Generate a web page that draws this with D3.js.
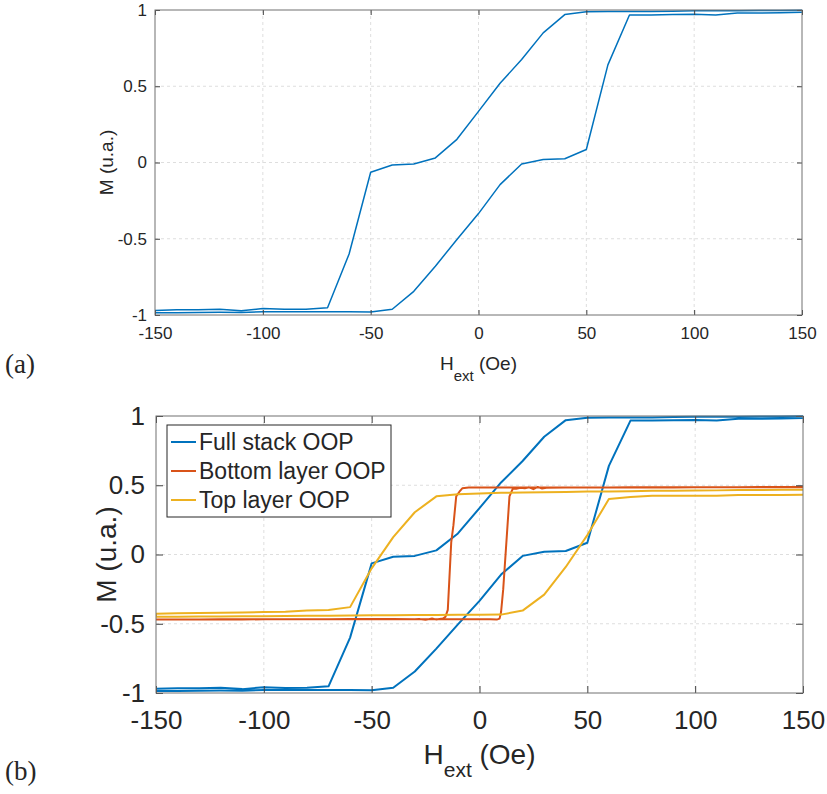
<!DOCTYPE html>
<html>
<head>
<meta charset="utf-8">
<script src="https://cdn.jsdelivr.net/npm/d3@7"></script>
<style>
  body { margin: 0; background: #fff; }
  svg text { font-family: "Liberation Sans", Arial, Helvetica, sans-serif; fill: #262626; }
  .panel-tag { font-family: "Liberation Serif", "DejaVu Serif", serif !important; }
</style>
</head>
<body>
<div class="chart"></div>
<script>
// field steps of the full stack and top layer sweeps (Oe)
var fieldSteps = [-150, -140, -130, -120, -110, -100, -90, -80, -70, -60, -50, -40, -30, -20, -10,
  0, 10, 20, 30, 40, 50, 60, 70, 80, 90, 100, 110, 120, 130, 140, 150];

// full stack, M on the descending sweep, listed at fieldSteps
var fullDown = [-0.970, -0.965, -0.965, -0.962, -0.972, -0.958, -0.963, -0.962, -0.952, -0.600, -0.064,
  -0.016, -0.010, 0.030, 0.152, 0.335, 0.520, 0.675, 0.850, 0.970, 0.988, 0.990, 0.990, 0.990,
  0.992, 0.995, 0.995, 0.995, 0.997, 0.997, 0.998];
// full stack, ascending sweep
var fullUp = [-0.985, -0.985, -0.983, -0.982, -0.983, -0.978, -0.978, -0.978, -0.978, -0.978, -0.980,
  -0.962, -0.845, -0.680, -0.505, -0.335, -0.145, -0.010, 0.020, 0.025, 0.085, 0.640, 0.967,
  0.968, 0.970, 0.972, 0.968, 0.980, 0.980, 0.982, 0.985];

// top layer
var topDown = [-0.427, -0.425, -0.423, -0.420, -0.418, -0.415, -0.413, -0.405, -0.400, -0.380, -0.100,
  0.125, 0.305, 0.420, 0.435, 0.440, 0.445, 0.447, 0.450, 0.452, 0.455, 0.455, 0.457, 0.460,
  0.460, 0.462, 0.463, 0.465, 0.466, 0.467, 0.468];
var topUp = [-0.450, -0.449, -0.448, -0.447, -0.446, -0.445, -0.444, -0.443, -0.442, -0.440, -0.439,
  -0.438, -0.437, -0.436, -0.435, -0.435, -0.434, -0.405, -0.290, -0.090, 0.140, 0.400, 0.415,
  0.424, 0.425, 0.425, 0.424, 0.430, 0.430, 0.430, 0.432];

// bottom layer, denser sweep (descending from +150, then ascending from -150)
var bottomDownH = [150, 140, 130, 120, 110, 100, 90, 80, 70, 60, 50, 40, 30, 20, 10, 0, -5, -8, -9,
  -10.8, -12.1, -13.1, -14.7, -15.8, -17, -20, -22, -25, -28, -30, -40, -50, -60, -70, -80, -90,
  -100, -110, -120, -130, -140, -150];
var bottomDownM = [0.486, 0.486, 0.485, 0.485, 0.485, 0.485, 0.484, 0.484, 0.484, 0.484, 0.484, 0.484,
  0.484, 0.484, 0.484, 0.483, 0.483, 0.478, 0.460, 0.420, 0.210, 0.090, -0.400, -0.450, -0.462,
  -0.470, -0.462, -0.472, -0.465, -0.467, -0.466, -0.466, -0.466, -0.467, -0.467, -0.467, -0.468,
  -0.468, -0.468, -0.469, -0.469, -0.470];
var bottomUpH = [-150, -140, -130, -120, -110, -100, -90, -80, -70, -60, -50, -40, -30, -20, -10, 0, 5,
  8, 9.3, 10, 11, 13.9, 15.5, 17, 19, 21, 23, 25, 27, 29, 31, 40, 50, 60, 70, 80, 90, 100, 110,
  120, 130, 140, 150];
var bottomUpM = [-0.470, -0.470, -0.469, -0.469, -0.469, -0.468, -0.468, -0.468, -0.468, -0.468, -0.468,
  -0.468, -0.468, -0.468, -0.468, -0.468, -0.467, -0.470, -0.463, -0.415, -0.250, 0.420, 0.477,
  0.475, 0.482, 0.478, 0.485, 0.472, 0.488, 0.476, 0.482, 0.483, 0.484, 0.484, 0.485, 0.485,
  0.485, 0.486, 0.486, 0.486, 0.487, 0.487, 0.487];

var xTicks = [-150, -100, -50, 0, 50, 100, 150];
var xTickLabels = ["-150", "-100", "-50", "0", "50", "100", "150"];
var yTicks = [-1, -0.5, 0, 0.5, 1];
var yTickLabels = ["-1", "-0.5", "0", "0.5", "1"];
var seriesNames = ["Full stack OOP", "Bottom layer OOP", "Top layer OOP"];
var seriesColors = ["#0072BD", "#D95319", "#EDB120"];

var Hysteresis = (function() {
  var width = 827, height = 794;

  // descending branch (high field to low) then ascending branch
  function loop(hDown, mDown, hUp, mUp) {
    var pts = [];
    hDown.forEach(function(h, i) { pts.push([h, mDown[i]]); });
    hUp.forEach(function(h, i) { pts.push([h, mUp[i]]); });
    return pts;
  }

  function stepLoop(down, up) {
    var rev = fieldSteps.slice().reverse();
    var revM = down.slice().reverse();
    return loop(rev, revM, fieldSteps, up);
  }

  function drawPanel(svg, p) {
    var x = d3.scaleLinear().domain([-150, 150]).range([p.left, p.right]);
    var y = d3.scaleLinear().domain([-1, 1]).range([p.bottom, p.top]);

    var g = svg.append("g");

    // dashed grid
    g.append("g").selectAll("line").data(xTicks.slice(1, -1)).enter().append("line")
      .attr("x1", d => x(d)).attr("x2", d => x(d))
      .attr("y1", p.top).attr("y2", p.bottom)
      .attr("stroke", "#dedede").attr("stroke-dasharray", "3,3");
    g.append("g").selectAll("line").data(yTicks.slice(1, -1)).enter().append("line")
      .attr("x1", p.left).attr("x2", p.right)
      .attr("y1", d => y(d)).attr("y2", d => y(d))
      .attr("stroke", "#dedede").attr("stroke-dasharray", "3,3");

    var clipId = "clip" + p.name;
    svg.append("clipPath").attr("id", clipId).append("rect")
      .attr("x", p.left).attr("y", p.top - 1)
      .attr("width", p.right - p.left).attr("height", p.bottom - p.top + 2);

    var line = d3.line().x(d => x(d[0])).y(d => y(d[1]));

    g.append("g").attr("clip-path", "url(#" + clipId + ")")
      .selectAll("path").data(p.series).enter().append("path")
      .attr("d", d => line(d.points))
      .attr("fill", "none")
      .attr("stroke", d => d.color)
      .attr("stroke-width", p.lineWidth)
      .attr("stroke-linejoin", "round");

    // axes, ticks pointing inward on all four sides
    var bottomAxis = d3.axisBottom(x).tickValues(xTicks).tickSize(-p.tick).tickPadding(p.xPad)
      .tickFormat((d, i) => xTickLabels[i]);
    var leftAxis = d3.axisLeft(y).tickValues(yTicks).tickSize(-p.tick).tickPadding(p.yPad)
      .tickFormat((d, i) => yTickLabels[i]);
    var topAxis = d3.axisTop(x).tickValues(xTicks).tickSize(-p.tick).tickFormat("");
    var rightAxis = d3.axisRight(y).tickValues(yTicks).tickSize(-p.tick).tickFormat("");

    var axes = [
      g.append("g").attr("transform", "translate(0," + p.bottom + ")").call(bottomAxis),
      g.append("g").attr("transform", "translate(" + p.left + ",0)").call(leftAxis),
      g.append("g").attr("transform", "translate(0," + p.top + ")").call(topAxis),
      g.append("g").attr("transform", "translate(" + p.right + ",0)").call(rightAxis)
    ];
    axes.forEach(function(a) {
      a.select(".domain").remove();
      a.attr("font-family", null).attr("font-size", p.tickFont);
      a.selectAll("line").attr("stroke", "#404040");
      a.selectAll("text").attr("fill", "#262626");
    });
    axes[0].selectAll("text").attr("dy", "0.71em");

    g.append("rect")
      .attr("x", p.left).attr("y", p.top)
      .attr("width", p.right - p.left).attr("height", p.bottom - p.top)
      .attr("fill", "none").attr("stroke", "#707070").attr("stroke-width", 1);

    // x label with subscript
    var xl = g.append("text")
      .attr("x", (p.left + p.right) / 2).attr("y", p.xLabelY)
      .attr("text-anchor", "middle").attr("font-size", p.labelFont);
    xl.append("tspan").text("H");
    xl.append("tspan").attr("font-size", p.subFont).attr("dy", p.subDrop).text("ext");
    xl.append("tspan").attr("dy", -p.subDrop).text(" (Oe)");

    g.append("text")
      .attr("transform", "translate(" + p.yLabelX + "," + ((p.top + p.bottom) / 2) + ") rotate(-90)")
      .attr("text-anchor", "middle").attr("font-size", p.labelFont)
      .text("M (u.a.)");

    svg.append("text").attr("class", "panel-tag")
      .attr("x", 5).attr("y", p.tagY).attr("font-size", 27)
      .text(p.tag);

    return { x: x, y: y };
  }

  function drawLegend(svg, box) {
    var lg = svg.append("g");
    lg.append("rect")
      .attr("x", box.x).attr("y", box.y).attr("width", box.w).attr("height", box.h)
      .attr("fill", "#fff").attr("stroke", "#262626").attr("stroke-width", 1);
    var rows = lg.selectAll("g.row").data(seriesNames).enter().append("g")
      .attr("class", "row")
      .attr("transform", (d, i) => "translate(" + box.x + "," + (box.y + 17 + i * 29) + ")");
    rows.append("line")
      .attr("x1", 4).attr("x2", 29).attr("y1", 0).attr("y2", 0)
      .attr("stroke", (d, i) => seriesColors[i]).attr("stroke-width", 2);
    rows.append("text")
      .attr("x", 32).attr("dy", "0.36em").attr("font-size", 23)
      .text(d => d);
  }

  function drawChart() {
    var svg = d3.select(".chart").append("svg")
      .attr("width", width).attr("height", height);

    var full = stepLoop(fullDown, fullUp);
    var bottomLayer = loop(bottomDownH, bottomDownM, bottomUpH, bottomUpM);
    var topLayer = stepLoop(topDown, topUp);

    drawPanel(svg, {
      name: "a", tag: "(a)", tagY: 373,
      left: 155, right: 802, top: 10, bottom: 315,
      tick: 5, xPad: 12, yPad: 8, tickFont: 17,
      labelFont: 19, subFont: 15, subDrop: 11, xLabelY: 370, yLabelX: 113,
      lineWidth: 1.5,
      series: [{ points: full, color: seriesColors[0] }]
    });

    drawPanel(svg, {
      name: "b", tag: "(b)", tagY: 780,
      left: 156, right: 803, top: 416, bottom: 693,
      tick: 7, xPad: 18, yPad: 11, tickFont: 26,
      labelFont: 28, subFont: 21, subDrop: 13, xLabelY: 764, yLabelX: 116,
      lineWidth: 2,
      series: [
        { points: full, color: seriesColors[0] },
        { points: bottomLayer, color: seriesColors[1] },
        { points: topLayer, color: seriesColors[2] }
      ]
    });

    drawLegend(svg, { x: 167, y: 425, w: 224, h: 92 });
  }

  return {
    draw: function() {
      return drawChart();
    }
  };
})();

Hysteresis.draw();
</script>
</body>
</html>
